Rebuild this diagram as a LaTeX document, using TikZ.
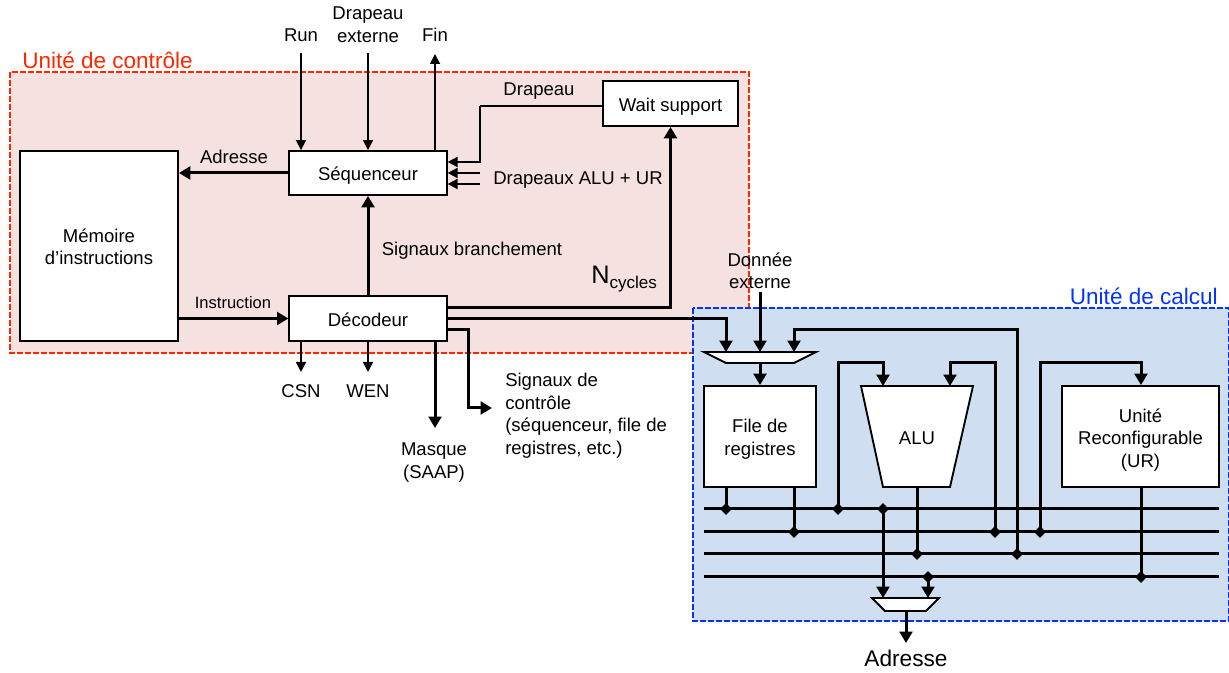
\documentclass[tikz,border=0pt]{standalone}
\usepackage{fontspec}
\setmainfont{Liberation Sans}
\usetikzlibrary{arrows.meta,shapes.geometric,calc}
\definecolor{redc}{HTML}{FF2600}
\definecolor{bluec}{HTML}{0433FF}
\definecolor{redfill}{HTML}{F4E1E0}
\definecolor{bluefill}{HTML}{CFDFF1}
\tikzset{
 x=0.75pt,y=-0.75pt,
 thinw/.style={line width=1.3pt,-{Triangle[length=7.5pt,width=7.5pt]}},
 thinl/.style={line width=1.3pt},
 thickw/.style={line width=2.25pt,-{Triangle[length=8.5pt,width=9.5pt]}},
 thickl/.style={line width=2.25pt},
 blockb/.style={draw=black,fill=white,line width=1.4pt,inner sep=0pt,align=center,font=\fontsize{13.9}{16.9}\selectfont},
 blockone/.style={draw=black,fill=white,line width=1.4pt,inner sep=0pt,text height=13pt,text depth=1.4pt,font=\fontsize{13.9}{16.9}\selectfont},
 lab/.style={inner sep=0pt,align=center,font=\fontsize{13.9}{16.9}\selectfont},
 labl/.style={inner sep=0pt,align=left,anchor=west,font=\fontsize{13.9}{16.9}\selectfont},
 joint/.style={diamond,fill=black,inner sep=0pt,minimum size=9pt},
 shapeb/.style={draw=black,fill=white,line width=1.4pt,line join=miter},
}
\begin{document}
\begin{tikzpicture}
\useasboundingbox (0,0) rectangle (1229,673);
% regions
\draw[redc,fill=redfill,line width=0.8pt,dash pattern=on 4.5pt off 1.5pt] (10,72) rectangle (749,353);
\draw[bluec,fill=bluefill,line width=1pt,dash pattern=on 4.5pt off 1.5pt] (693,308) rectangle (1229,621);
\node[anchor=west,inner sep=0pt,text=redc,font=\fontsize{16.9}{20}\selectfont] (tctl) at (22,60) {Unité de contrôle};
\node[anchor=east,inner sep=0pt,text=bluec,font=\fontsize{16.9}{20}\selectfont] (tcal) at (1218,296) {Unité de calcul};
% helper coordinates
\coordinate (run) at (301,53);
\coordinate (ext) at (368,53);
\coordinate (fin) at (435,54);
\coordinate (fl1) at (480,106);
\coordinate (fl2) at (480,173);
\coordinate (fl3) at (480,184);
\coordinate (nc) at (670.5,308);
\coordinate (dl2) at (726,319);
\coordinate (dl3) at (468,330);
\coordinate (sc) at (492,408);
\coordinate (csn) at (301,372);
\coordinate (wen) at (368,372);
\coordinate (mq) at (435,428);
\coordinate (dne) at (760,292);
% blocks
\node[blockb,minimum width=118.5pt,minimum height=142.5pt] (mem) at (99,246) {};
\node[lab] (lmem) at (99,247) {Mémoire\\d’instructions};
\node[blockone,minimum width=118pt,minimum height=33pt] (seq) at (368,173) {Séquenceur};
\node[blockone,minimum width=118pt,minimum height=33.75pt] (dec) at (368,318.5) {Décodeur};
\node[blockone,minimum width=101pt,minimum height=33.75pt] (wait) at (670.5,103.5) {Wait support};
\node[blockb,minimum width=84pt,minimum height=75.75pt] (file) at (760,436.5) {};
\node[lab] (lfile) at (760,439) {File de\\registres};
\node[blockb,minimum width=117.75pt,minimum height=75.75pt] (ur) at (1140.5,436.5) {};
\node[lab] (lur) at (1140.5,440) {Unité\\Reconfigurable\\(UR)};
% shapes
\coordinate (muxa) at (760,352);
\coordinate (muxo) at (760,363);
\coordinate (mbl) at (906,598);
\coordinate (mbo) at (906,611);
\draw[shapeb] (704,352) -- (816,352) -- (794,363) -- (726,363) -- cycle;
\draw[shapeb] (861,386) -- (973,386) -- (950,487) -- (883,487) -- cycle;
\draw[shapeb] (872,598) -- (939,598) -- (926,611) -- (885,611) -- cycle;
\node[lab] (alu) at (917,438) {ALU};
% buses
\coordinate (bl) at (704,0);
\coordinate (br) at (1219,0);
\coordinate (b1) at (0,509);
\coordinate (b2) at (0,532);
\coordinate (b3) at (0,554);
\coordinate (b4) at (0,577);
\foreach \b in {b1,b2,b3,b4} \draw[thickl] (bl |- \b) -- (br |- \b);
% joints
\node[joint] (j1) at (726,509) {};
\node[joint] (j2) at (794,532) {};
\node[joint] (j3) at (838,509) {};
\node[joint] (j4) at (883,509) {};
\node[joint] (j5) at (917,554) {};
\node[joint] (j6) at (928,577) {};
\node[joint] (j7) at (995,532) {};
\node[joint] (j8) at (1017,554) {};
\node[joint] (j9) at (1040,532) {};
\node[joint] (j10) at (1141,577) {};
% control connectors
\draw[thinw] (run) -- (run |- seq.north);
\draw[thinw] (ext) -- (ext |- seq.north);
\draw[thinw] (fin |- seq.north) -- (fin);
\draw[thinl] (wait.west |- fl1) -- (fl1);
\draw[thinw] (fl1) -- (480,162) -- (seq.east |- 0,162);
\draw[thinw] (fl2) -- (seq.east |- fl2);
\draw[thinw] (fl3) -- (seq.east |- fl3);
\draw[thickw] (seq.west) -- (mem.east |- seq.west);
\draw[thickw] (dec.north) -- (seq.south);
\draw[thickw] (mem.east |- dec.west) -- (dec.west);
\draw[thickw] (dec.east |- nc) -- (nc) -- (wait.south);
\draw[thickw] (dec.east |- dl2) -- (dl2) -- (726,352);
\draw[thickw] (dec.east |- dl3) -- (dl3) -- (dl3 |- sc) -- (sc);
\draw[thinw] (csn |- dec.south) -- (csn);
\draw[thinw] (wen |- dec.south) -- (wen);
\draw[thickw] (mq |- dec.south) -- (mq);
% datapath connectors
\draw[thickw] (dne) -- (muxa);
\draw[thickw] (muxo) -- (file.north);
\draw[thickw] (j8.center) -- (1017,330) -- (794,330) -- (794,352);
\draw[thickl] (j1.center) -- (j1 |- file.south);
\draw[thickl] (j2.center) -- (j2 |- file.south);
\draw[thickw] (j3.center) -- (838,363) -- (883,363) -- (883,386);
\draw[thickw] (j7.center) -- (995,363) -- (950,363) -- (950,386);
\draw[thickw] (j9.center) -- (1040,363) -- (1141,363) -- (ur.north -| j10);
\draw[thickl] (j5.center) -- (917,487);
\draw[thickl] (j10.center) -- (j10 |- ur.south);
\draw[thickw] (j4.center) -- (j4 |- mbl);
\draw[thickw] (j6.center) -- (j6 |- mbl);
\coordinate (ado) at (906,643);
\draw[thickw] (mbo) -- (ado);
% labels
\node[lab] (lrun) at (301,35) {Run};
\node[lab] (lext) at (368,24.5) {Drapeau\\externe};
\node[lab] (lfin) at (435,35) {Fin};
\node[lab] (ladr) at (234,157) {Adresse};
\node[lab,font=\fontsize{12.4}{15}\selectfont] (lins) at (233,303) {Instruction};
\node[lab] (lbr) at (472,251) {Signaux branchement};
\node[lab] (ldr) at (539,91) {Drapeau};
\node[lab] (ldrs) at (578,180) {Drapeaux ALU + UR};
\node[labl,font=\fontsize{19}{20}\selectfont] (lnc) at (591,279) {N\raisebox{-4pt}{\fontsize{12.8}{16}\selectfont cycles}};
\node[lab] (ldon) at (760,271) {Donnée\\externe};
\node[labl] (lsig) at (505,415.5) {Signaux de\\contrôle\\(séquenceur, file de\\registres, etc.)};
\node[lab] (lmq) at (434,462.5) {Masque\\(SAAP)};
\node[lab] (lcsn) at (301,391) {CSN};
\node[lab] (lwen) at (368,391) {WEN};
\node[lab,font=\fontsize{17}{20}\selectfont] (ladr2) at (906,658) {Adresse};
\end{tikzpicture}
\end{document}
